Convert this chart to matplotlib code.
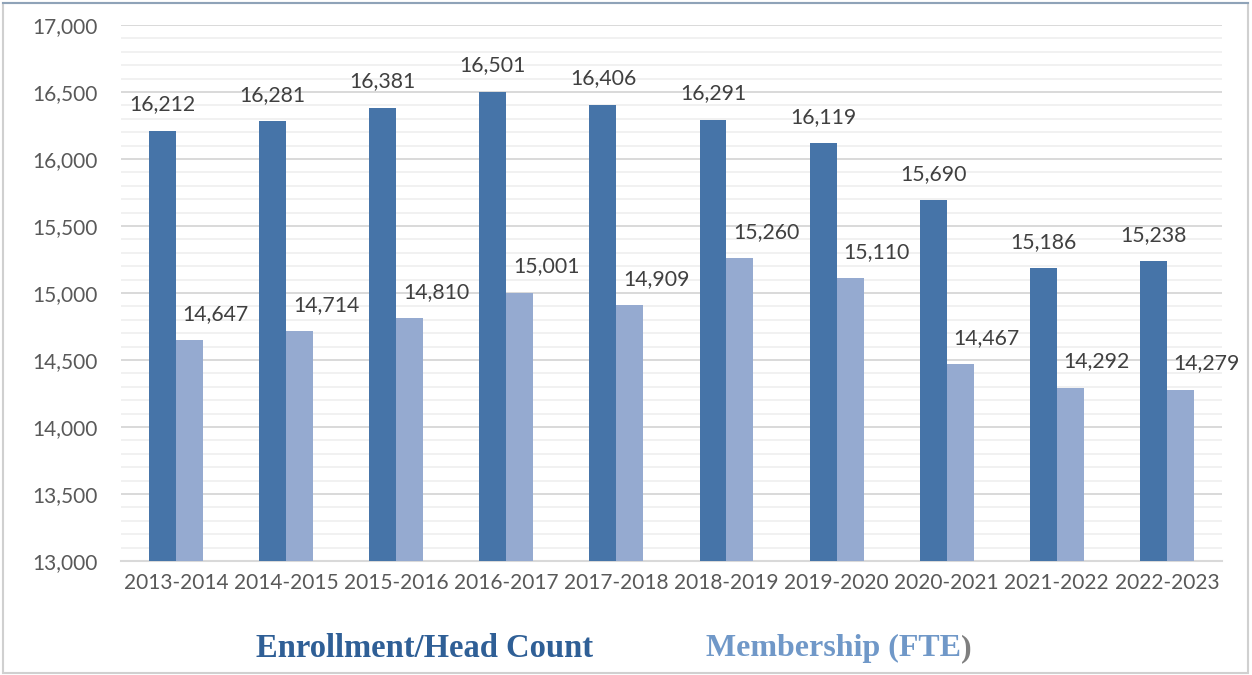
import matplotlib.pyplot as plt
import matplotlib.ticker as mticker
from matplotlib.patches import Rectangle
import numpy as np

years = ["2013-2014", "2014-2015", "2015-2016", "2016-2017", "2017-2018",
         "2018-2019", "2019-2020", "2020-2021", "2021-2022", "2022-2023"]
enrollment = [16212, 16281, 16381, 16501, 16406, 16291, 16119, 15690, 15186, 15238]
membership = [14647, 14714, 14810, 15001, 14909, 15260, 15110, 14467, 14292, 14279]

dark = '#4674A8'
light = '#95AAD0'

plt.rcParams['font.family'] = ['Lato', 'DejaVu Sans']

fig = plt.figure(figsize=(12.52, 6.75), dpi=100)
ax = fig.add_axes([0.0966, 0.169, 0.8794, 0.794])

x = np.arange(len(years))
w = 0.245
ax.bar(x - w / 2, enrollment, w, color=dark, zorder=3)
ax.bar(x + w / 2, membership, w, color=light, zorder=3)

ax.set_ylim(13000, 17000)
ax.set_xlim(-0.5, len(years) - 0.5)
ax.yaxis.set_major_locator(mticker.MultipleLocator(500))
ax.yaxis.set_minor_locator(mticker.MultipleLocator(100))
ax.yaxis.set_major_formatter(mticker.FuncFormatter(lambda v, p: f"{v:,.0f}"))
ax.grid(which='minor', axis='y', color='#EFEFEF', lw=1.2, zorder=0)
ax.grid(which='major', axis='y', color='#D9D9D9', lw=1.4, zorder=1)
ax.tick_params(which='both', length=0)
ax.tick_params(axis='y', labelsize=15, labelcolor='#595959', pad=17)
ax.tick_params(axis='x', labelsize=15, labelcolor='#595959', pad=9)
ax.set_xticks(x)
ax.set_xticklabels(years)
for s in ['left', 'right', 'top']:
    ax.spines[s].set_visible(False)
ax.spines['bottom'].set_color('#D9D9D9')
ax.spines['bottom'].set_linewidth(1.5)

for xi, v in zip(x, enrollment):
    ax.annotate(f"{v:,}", (xi - w / 2, v), xytext=(0, 19), textcoords='offset points',
                ha='center', va='center', fontsize=15.3, color='#404040')
for xi, v in zip(x, membership):
    ax.annotate(f"{v:,}", (xi + w / 2, v), xytext=(19, 19), textcoords='offset points',
                ha='center', va='center', fontsize=15.3, color='#404040')

# legend-like labels at the bottom
fig.text(0.339, 0.039, "Enrollment/Head Count", ha='center', va='center',
         fontsize=23.5, fontweight='bold', family='Liberation Serif', color='#2F5F96')
t = fig.text(0.564, 0.039, "Membership (FTE", ha='left', va='center',
             fontsize=23, fontweight='bold', family='Liberation Serif', color='#7098C8')
fig.canvas.draw()
bb = t.get_window_extent()
fig.text(bb.x1 / fig.bbox.width, 0.039, ")", ha='left', va='center',
         fontsize=23, fontweight='bold', family='Liberation Serif', color='#7F7F7F')

# outer frame
fig.patches.append(Rectangle((0.002, 0.003), 0.995, 0.992, transform=fig.transFigure,
                             fill=False, edgecolor='#D0D0D0', lw=1.5))
fig.add_artist(plt.Line2D([0.002, 0.997], [0.995, 0.995], transform=fig.transFigure,
                          color='#8FA3B8', lw=1.5))

fig.savefig("out.png", dpi=100)
